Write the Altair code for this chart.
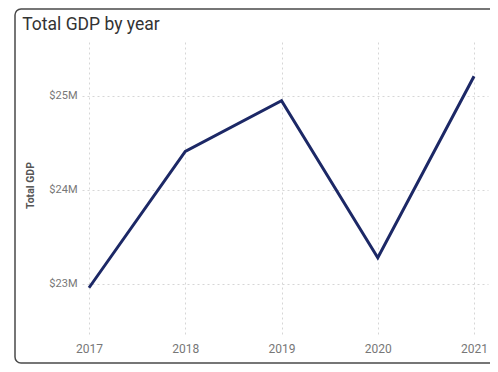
import altair as alt
import pandas as pd

years = [2017, 2018, 2019, 2020, 2021]
gdp = [22960000, 24410000, 24950000, 23280000, 25210000]
y_ticks = [23000000, 24000000, 25000000]

df = pd.DataFrame({"Year": years, "Total GDP": gdp})

x_enc = alt.X(
    "Year:Q",
    scale=alt.Scale(domain=[2016.927, 2021.145], nice=False, zero=False),
    axis=alt.Axis(values=years, format="d", title=None, grid=True, domain=False,
                  ticks=False, labelPadding=9, labelFontSize=12, labelColor="#777777",
                  labelFont="Roboto", gridColor="#d6d6d6",
                  gridDash=[2, 3], gridWidth=1),
)
y_enc = alt.Y(
    "Total GDP:Q",
    scale=alt.Scale(domain=[22468000, 25574000], nice=False, zero=False),
    axis=alt.Axis(values=y_ticks, format="$~s", title="Total GDP", grid=True,
                  domain=False, ticks=False, labelPadding=5, labelFontSize=11,
                  labelColor="#777777", labelFont="Roboto",
                  titleFontSize=10.5, titleFontWeight="bold", titleColor="#555555",
                  titleFont="Roboto", titleX=-52, titleY=143, titleAngle=270,
                  titleBaseline="middle", titleAlign="center",
                  gridColor="#d6d6d6", gridDash=[2, 3], gridWidth=1),
)

line = alt.Chart(df).mark_line(color="#1c2866", strokeWidth=3, strokeJoin="miter").encode(
    x=x_enc, y=y_enc
)

frame = alt.Chart(df.head(1)).mark_rect(
    fill=None, stroke="#4a4a4a", strokeWidth=1.5, cornerRadius=6
).encode(
    x=alt.value(-67), x2=alt.value(413), y=alt.value(-33), y2=alt.value(321)
)

chart = alt.layer(line, frame).properties(
    width=406,
    height=292,
    autosize=alt.AutoSizeParams(type="none"),
    padding={"left": 74, "top": 34, "right": 2, "bottom": 30},
    title=alt.TitleParams(
        "Total GDP by year", anchor="start", dx=8, offset=-39, baseline="alphabetic",
        fontSize=17.5, font="Roboto", fontWeight="normal", color="#333333",
    ),
    background="white",
).configure_view(stroke=None)

chart.save("out.html", embed_options={"renderer": "svg", "actions": False})
